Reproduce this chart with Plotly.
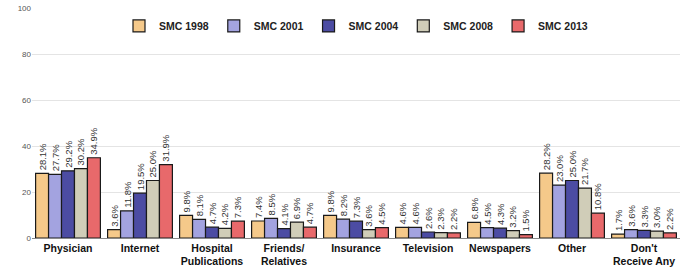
import plotly.graph_objects as go

categories = ["Physician", "Internet", "Hospital<br>Publications", "Friends/<br>Relatives",
              "Insurance", "Television", "Newspapers", "Other", "Don't<br>Receive Any"]
series_names = ["SMC 1998", "SMC 2001", "SMC 2004", "SMC 2008", "SMC 2013"]
smc1998 = [28.1, 3.6, 9.8, 7.4, 9.8, 4.6, 6.8, 28.2, 1.7]
smc2001 = [27.7, 11.8, 8.1, 8.5, 8.2, 4.6, 4.5, 23.0, 3.6]
smc2004 = [29.2, 19.5, 4.7, 4.1, 7.3, 2.6, 4.3, 25.0, 3.3]
smc2008 = [30.2, 25.0, 4.2, 6.9, 3.6, 2.3, 3.2, 21.7, 3.0]
smc2013 = [34.9, 31.9, 7.3, 4.7, 4.5, 2.2, 1.5, 10.8, 2.2]
y_ticks = [0, 20, 40, 60, 80, 100]

colors = ["#F5C98A", "#A3A3E0", "#4C4CA3", "#D0CDB8", "#E8696B"]
series = [smc1998, smc2001, smc2004, smc2008, smc2013]

fig = go.Figure()
for name, vals, col in zip(series_names, series, colors):
    fig.add_trace(go.Bar(
        x=categories, y=vals, name=f"<b>{name}</b>",
        marker=dict(color=col, line=dict(color="#1a1a1a", width=1.2)),
        text=[f"{v:.1f}%" for v in vals],
        textposition="outside", textangle=-90,
        textfont=dict(size=9.5, color="#333333", family="Liberation Sans, Arial"),
        constraintext="none", cliponaxis=False,
    ))

fig.update_layout(
    width=680, height=273,
    margin=dict(l=32, r=0, t=8, b=35),
    paper_bgcolor="white", plot_bgcolor="white",
    barmode="group", bargap=0.1, bargroupgap=0,
    font=dict(family="Liberation Sans, Arial", color="#222222"),
    showlegend=True,
    legend=dict(orientation="h", x=0.5, xanchor="center", y=0.985, yanchor="top",
                font=dict(size=10.5, color="#222222", family="Liberation Sans, Arial"),
                itemwidth=30, bgcolor="rgba(0,0,0,0)", tracegroupgap=0),
    xaxis=dict(tickfont=dict(size=10.5, color="#111111", family="Liberation Sans, Arial"),
               showline=True, linecolor="#888888", linewidth=1, ticks=""),
    yaxis=dict(range=[0, 100], tickvals=y_ticks, tickfont=dict(size=8, color="#555555"),
               showgrid=True, gridcolor="#E4E4E4", gridwidth=1, zeroline=False,
               showline=False, ticks=""),
)
fig.update_xaxes(tickvals=categories, ticktext=[f"<b>{c}</b>" for c in categories])
fig.write_html("out.html", config={"displayModeBar": False},
               post_script="document.body.style.margin='0';")
